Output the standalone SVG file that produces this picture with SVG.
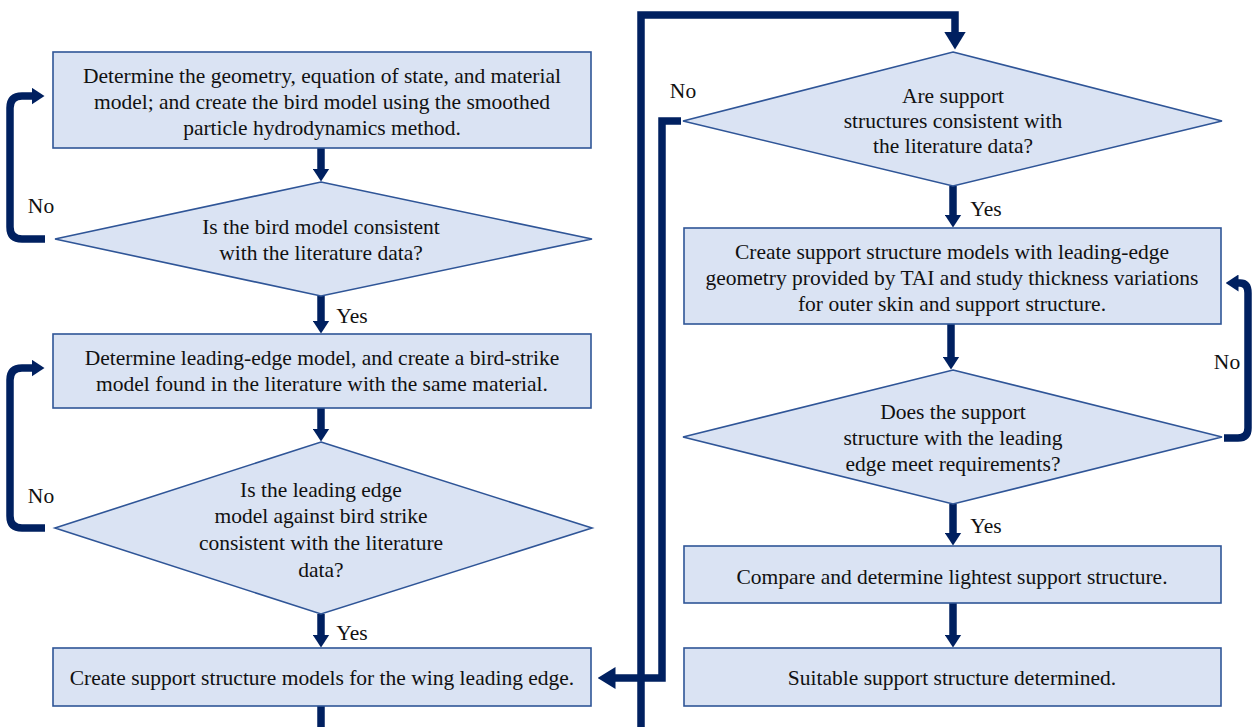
<svg xmlns="http://www.w3.org/2000/svg" width="1257" height="727" viewBox="0 0 1257 727">
<style>
.box{fill:#DAE3F3;stroke:#2F5597;stroke-width:1.6}
.t{font-family:"Liberation Serif","Times New Roman",serif;font-size:21.5px;fill:#111;text-anchor:middle}
.c{fill:none;stroke:#002060;stroke-width:7.5}
</style>
<defs>
<marker id="ah" viewBox="0 0 13 17" refX="0.5" refY="8.5" markerWidth="13" markerHeight="17" markerUnits="userSpaceOnUse" orient="auto"><path d="M0,0 L13,8.5 L0,17 Z" fill="#002060"/></marker>
<marker id="ahL" viewBox="0 0 18 22" refX="0.5" refY="11" markerWidth="18" markerHeight="22" markerUnits="userSpaceOnUse" orient="auto"><path d="M0,0 L18,11 L0,22 Z" fill="#002060"/></marker>
</defs>
<rect width="1257" height="727" fill="#fff"/>
<g id="connectors">
<path class="c" d="M321,148 V169" marker-end="url(#ah)"/>
<path class="c" d="M321,296 V321" marker-end="url(#ah)"/>
<path class="c" d="M321,408 V429" marker-end="url(#ah)"/>
<path class="c" d="M321,614 V635" marker-end="url(#ah)"/>
<path class="c" d="M45,239 H22 Q10,239 10,227 V108 Q10,96 22,96 H32" marker-end="url(#ah)"/>
<path class="c" d="M45,528 H22 Q10,528 10,516 V380 Q10,368 22,368 H32" marker-end="url(#ah)"/>
<path class="c" d="M321,706 V731 H641 V15 H955 V32" marker-end="url(#ahL)"/>
<path class="c" d="M681,121 H662 V678 H615" marker-end="url(#ahL)"/>
<path class="c" d="M953,186 V215" marker-end="url(#ah)"/>
<path class="c" d="M951,324 V357" marker-end="url(#ah)"/>
<path class="c" d="M953,504 V533" marker-end="url(#ah)"/>
<path class="c" d="M953,603 V635" marker-end="url(#ah)"/>
<path class="c" d="M1224,438 H1238 Q1248,438 1248,428 V293 Q1248,283 1240,283 H1238" marker-end="url(#ah)"/>
</g>
<g id="labels">
<text class="t" x="41" y="213">No</text>
<text class="t" x="352" y="323">Yes</text>
<text class="t" x="41" y="503">No</text>
<text class="t" x="352" y="640">Yes</text>
<text class="t" x="683" y="98">No</text>
<text class="t" x="986" y="216">Yes</text>
<text class="t" x="1227" y="369">No</text>
<text class="t" x="986" y="533">Yes</text>
</g>
<g id="n1"><rect class="box" x="53" y="52" width="538" height="96"/>
<text class="t" x="322" y="83">Determine the geometry, equation of state, and material</text>
<text class="t" x="322" y="109">model; and create the bird model using the smoothed</text>
<text class="t" x="322" y="135">particle hydrodynamics method.</text></g>
<g id="d1"><polygon class="box" points="321,182 592,239 321,296 55,239"/>
<text class="t" x="321" y="234">Is the bird model consistent</text>
<text class="t" x="321" y="260">with the literature data?</text></g>
<g id="n2"><rect class="box" x="53" y="334" width="538" height="74"/>
<text class="t" x="322" y="365">Determine leading-edge model, and create a bird-strike</text>
<text class="t" x="322" y="391">model found in the literature with the same material.</text></g>
<g id="d2"><polygon class="box" points="321,442 592,528 321,614 55,528"/>
<text class="t" x="321" y="497">Is the leading edge</text>
<text class="t" x="321" y="523">model against bird strike</text>
<text class="t" x="321" y="550">consistent with the literature</text>
<text class="t" x="321" y="577">data?</text></g>
<g id="n3"><rect class="box" x="53" y="648" width="538" height="58"/>
<text class="t" x="322" y="685">Create support structure models for the wing leading edge.</text></g>
<g id="d3"><polygon class="box" points="953,52 1222,121 953,186 683,121"/>
<text class="t" x="953" y="103">Are support</text>
<text class="t" x="953" y="128">structures consistent with</text>
<text class="t" x="953" y="153">the literature data?</text></g>
<g id="n4"><rect class="box" x="684" y="228" width="537" height="96"/>
<text class="t" x="952" y="259">Create support structure models with leading-edge</text>
<text class="t" x="952" y="285">geometry provided by TAI and study thickness variations</text>
<text class="t" x="952" y="311">for outer skin and support structure.</text></g>
<g id="d4"><polygon class="box" points="953,370 1222,437 953,504 683,437"/>
<text class="t" x="953" y="419">Does the support</text>
<text class="t" x="953" y="445">structure with the leading</text>
<text class="t" x="953" y="471">edge meet requirements?</text></g>
<g id="n5"><rect class="box" x="684" y="546" width="537" height="57"/>
<text class="t" x="952" y="584">Compare and determine lightest support structure.</text></g>
<g id="n6"><rect class="box" x="684" y="648" width="537" height="58"/>
<text class="t" x="952" y="685">Suitable support structure determined.</text></g>
</svg>
